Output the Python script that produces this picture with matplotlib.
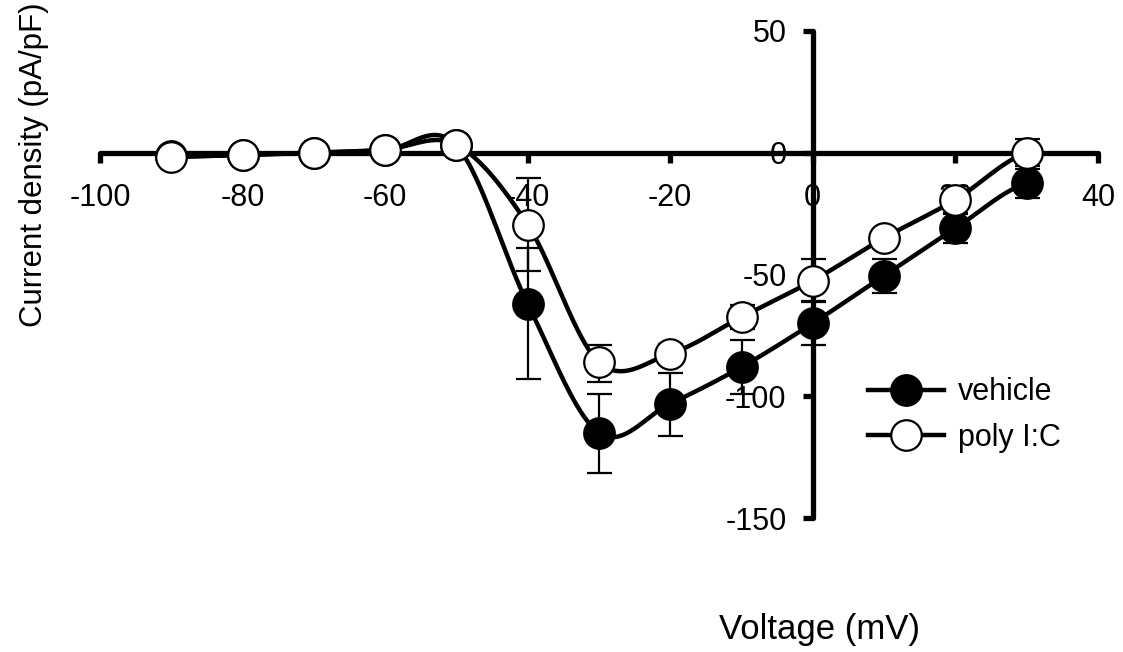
import matplotlib
matplotlib.use("Agg")
import matplotlib.pyplot as plt
from matplotlib.lines import Line2D
import numpy as np

plt.rcParams['font.family'] = ['Liberation Sans', 'DejaVu Sans']
plt.rcParams['axes.unicode_minus'] = False

# data
voltage = [-90, -80, -70, -60, -50, -40, -30, -20, -10, 0, 10, 20, 30]
vehicle = [-1.5, -1, 0, 1, 3, -62, -115, -103, -88, -70, -50.5, -31, -12.5]
vehicle_err_lo = [1, 1, 1, 1, 1, 31, 16.5, 13.5, 11, 9, 7, 6, 6]
vehicle_err_hi = [1, 1, 1, 1, 1, 23, 16, 12.5, 11, 9, 7, 6, 6]
polyic = [-1.8, -0.8, 0, 1.2, 3.3, -29.5, -86, -82.5, -67.5, -52.5, -35, -19.3, 0]
polyic_err_lo = [1, 1, 1, 1, 1, 19, 8, 4, 5, 9, 3, 5.5, 5.5]
polyic_err_hi = [1, 1, 1, 1, 1, 19, 7, 4, 5, 9, 3, 5.5, 5.5]
xticks = [-100, -80, -60, -40, -20, 0, 20, 40]
yticks = [-150, -100, -50, 0, 50]


def smooth(x, y, n=40):
    # catmull-rom style smoothing like excel's smoothed line
    x = np.asarray(x, float)
    y = np.asarray(y, float)
    xp = np.concatenate([[2 * x[0] - x[1]], x, [2 * x[-1] - x[-2]]])
    yp = np.concatenate([[y[0]], y, [y[-1]]])
    xs, ys = [], []
    t = np.linspace(0, 1, n)
    h00 = 2 * t**3 - 3 * t**2 + 1
    h10 = t**3 - 2 * t**2 + t
    h01 = -2 * t**3 + 3 * t**2
    h11 = t**3 - t**2
    for i in range(1, len(xp) - 2):
        mx0 = (xp[i + 1] - xp[i - 1]) / 2
        mx1 = (xp[i + 2] - xp[i]) / 2
        my0 = (yp[i + 1] - yp[i - 1]) / 2
        my1 = (yp[i + 2] - yp[i]) / 2
        xs.append(h00 * xp[i] + h10 * mx0 + h01 * xp[i + 1] + h11 * mx1)
        ys.append(h00 * yp[i] + h10 * my0 + h01 * yp[i + 1] + h11 * my1)
    return np.concatenate(xs), np.concatenate(ys)


fig = plt.figure(figsize=(11.23, 6.52), dpi=100)
ax = fig.add_axes([0.089, 0.2055, 0.8887, 0.747])

fsize = 22
for y, elo, ehi, face in [(vehicle, vehicle_err_lo, vehicle_err_hi, 'black'),
                          (polyic, polyic_err_lo, polyic_err_hi, 'white')]:
    sx, sy = smooth(voltage, y)
    ax.plot(sx, sy, color='black', lw=3.2, zorder=3, solid_capstyle='round')
    ax.errorbar(voltage, y, yerr=[elo, ehi], fmt='none', ecolor='black',
                elinewidth=1.6, capsize=9, capthick=1.6, zorder=3)
    ax.plot(voltage, y, 'o', ms=22, mfc=face, mec='black', mew=1.6, zorder=4)

ax.set_xlim(-100, 40)
ax.set_ylim(-150, 50)
ax.spines['left'].set_position(('data', 0))
ax.spines['bottom'].set_position(('data', 0))
ax.spines['top'].set_visible(False)
ax.spines['right'].set_visible(False)
for s in ['left', 'bottom']:
    ax.spines[s].set_linewidth(3.8)
    ax.spines[s].set_capstyle('round')
ax.set_xticks(xticks)
ax.set_yticks(yticks)
ax.tick_params(direction='out', length=7, width=3.8, labelsize=fsize, pad=12)
ax.tick_params(axis='x', pad=15)
ax.patch.set_visible(False)

handles = [Line2D([], [], color='black', lw=3.2, marker='o', ms=22, mfc='black', mec='black', mew=1.6),
           Line2D([], [], color='black', lw=3.2, marker='o', ms=22, mfc='white', mec='black', mew=1.6)]
fig.legend(handles, ['vehicle', 'poly I:C'], loc='center left', bbox_to_anchor=(0.773, 0.3635),
           frameon=False, fontsize=fsize, handlelength=2.5, handletextpad=0.45,
           labelspacing=0.5, borderpad=0, borderaxespad=0)

fig.text(0.030, 0.748, 'Current density (pA/pF)', rotation=90, ha='center', va='center', fontsize=22.5)
fig.text(0.73, 0.035, 'Voltage (mV)', ha='center', va='center', fontsize=25)

plt.savefig('out.png', dpi=100)
